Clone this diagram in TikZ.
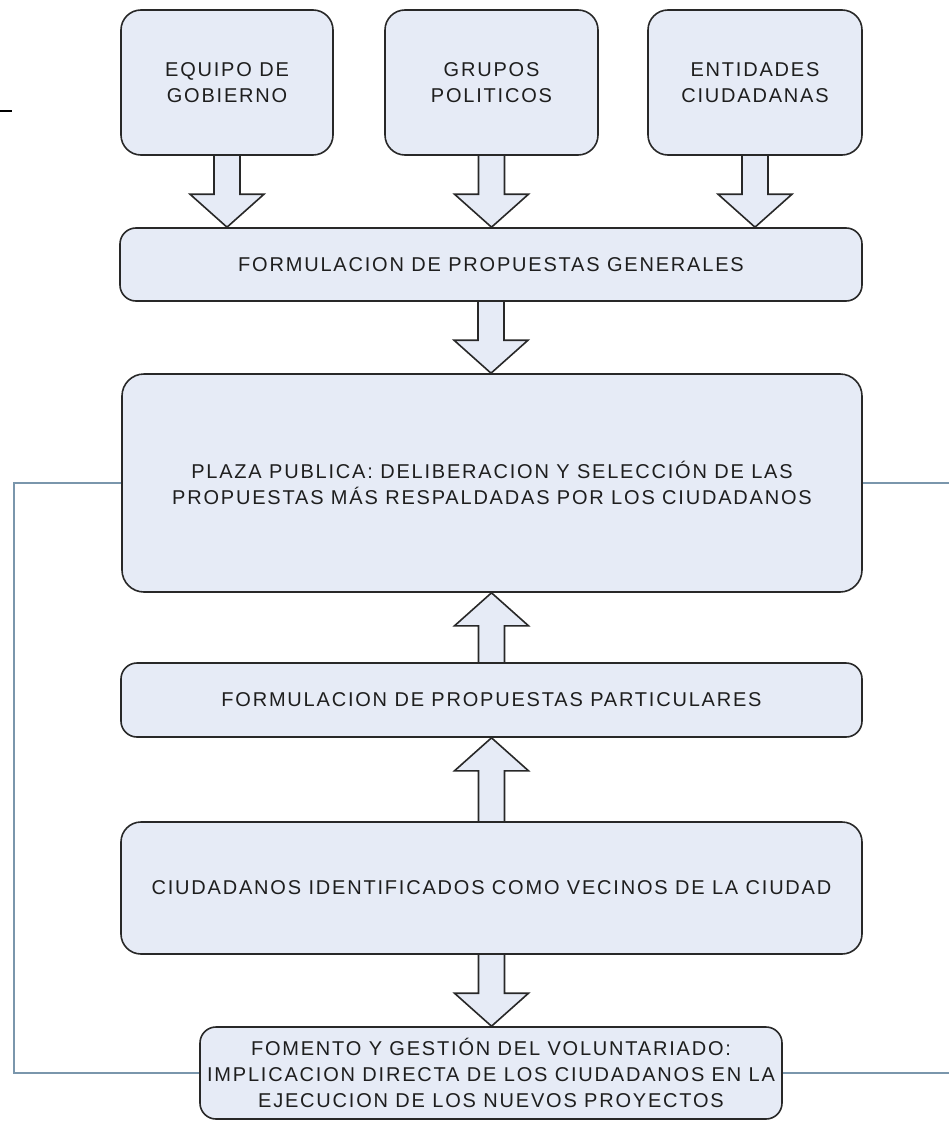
\documentclass[tikz,border=0pt]{standalone}
\usepackage{fontspec}
\newfontfamily\dfont{Liberation Sans}[LetterSpace=9]
\usetikzlibrary{calc}
\pgfdeclarelayer{background}
\pgfdeclarelayer{canvas}
\pgfsetlayers{canvas,background,main}
\definecolor{boxfill}{RGB}{230,235,246}
\definecolor{boxline}{RGB}{40,40,40}
\definecolor{fbline}{RGB}{122,150,172}
\definecolor{txt}{RGB}{30,30,30}
\tikzset{
  blk/.style={draw=boxline, fill=boxfill, line width=1.6pt, rounded corners=20pt,
    align=center, inner sep=0pt, text=txt,
    font=\dfont\fontsize{20}{26}\selectfont},
  arr/.style={draw=boxline, fill=boxfill, line width=1.6pt, line join=miter},
  fb/.style={draw=fbline, line width=1.5pt},
}
\newcommand{\blockarrow}[3]{%
  \begin{pgfonlayer}{background}
  \filldraw[arr] ($(#1)+(-13,0)$) -- ($(#2)+(-13,{-33*(#3)})$) -- ($(#2)+(-37,{-33*(#3)})$)
    -- (#2) -- ($(#2)+(37,{-33*(#3)})$) -- ($(#2)+(13,{-33*(#3)})$) -- ($(#1)+(13,0)$);
  \end{pgfonlayer}}
\begin{document}
\begin{tikzpicture}[x=1pt,y=-1pt]
\useasboundingbox (0,0) rectangle (949,1121);
\begin{pgfonlayer}{canvas}
\fill[white] (0,0) rectangle (949,1121);
\end{pgfonlayer}
% boxes
\node[blk, minimum width=212pt, minimum height=145pt] (eq) at (227,82.5) {EQUIPO DE\\GOBIERNO};
\node[blk, minimum width=213pt, minimum height=145pt] (gr) at (491.5,82.5) {GRUPOS\\POLITICOS};
\node[blk, minimum width=214pt, minimum height=145pt] (en) at (755,82.5) {ENTIDADES\\CIUDADANAS};
\node[blk, minimum width=742pt, minimum height=73pt, rounded corners=16pt] (gen) at (491,264.5) {FORMULACION DE PROPUESTAS GENERALES};
\node[blk, minimum width=740pt, minimum height=218pt, rounded corners=22pt] (pl) at (492,483) {PLAZA PUBLICA: DELIBERACION Y SELECCIÓN DE LAS\\PROPUESTAS MÁS RESPALDADAS POR LOS CIUDADANOS};
\node[blk, minimum width=741pt, minimum height=74pt, rounded corners=16pt] (par) at (491.5,700) {FORMULACION DE PROPUESTAS PARTICULARES};
\node[blk, minimum width=741pt, minimum height=132pt, rounded corners=20pt] (ci) at (491.5,888) {CIUDADANOS IDENTIFICADOS COMO VECINOS DE LA CIUDAD};
\node[blk, minimum width=582pt, minimum height=92pt, rounded corners=16pt] (vo) at (491,1073) {FOMENTO Y GESTIÓN DEL VOLUNTARIADO:\\IMPLICACION DIRECTA DE LOS CIUDADANOS EN LA\\EJECUCION DE LOS NUEVOS PROYECTOS};
% block arrows
\blockarrow{eq.south}{gen.north -| eq.south}{1}
\blockarrow{gr.south}{gen.north -| gr.south}{1}
\blockarrow{en.south}{gen.north -| en.south}{1}
\blockarrow{gen.south}{pl.north -| gen.south}{1}
\blockarrow{par.north}{pl.south -| par.north}{-1}
\blockarrow{ci.north}{par.south -| ci.north}{-1}
\blockarrow{ci.south}{vo.north -| ci.south}{1}
% feedback lines
\coordinate (L) at (14,0);
\coordinate (R) at (949,0);
\draw[fb] (pl.west) -- (pl.west -| L) -- (vo.west -| L) -- (vo.west);
\draw[fb] (pl.east) -- (pl.east -| R);
\draw[fb] (vo.east) -- (vo.east -| R);
% small tick at top left
\coordinate (t1) at (0,111);
\coordinate (t2) at (12,111);
\draw[line width=1.8pt, black] (t1) -- (t2);
\end{tikzpicture}
\end{document}
